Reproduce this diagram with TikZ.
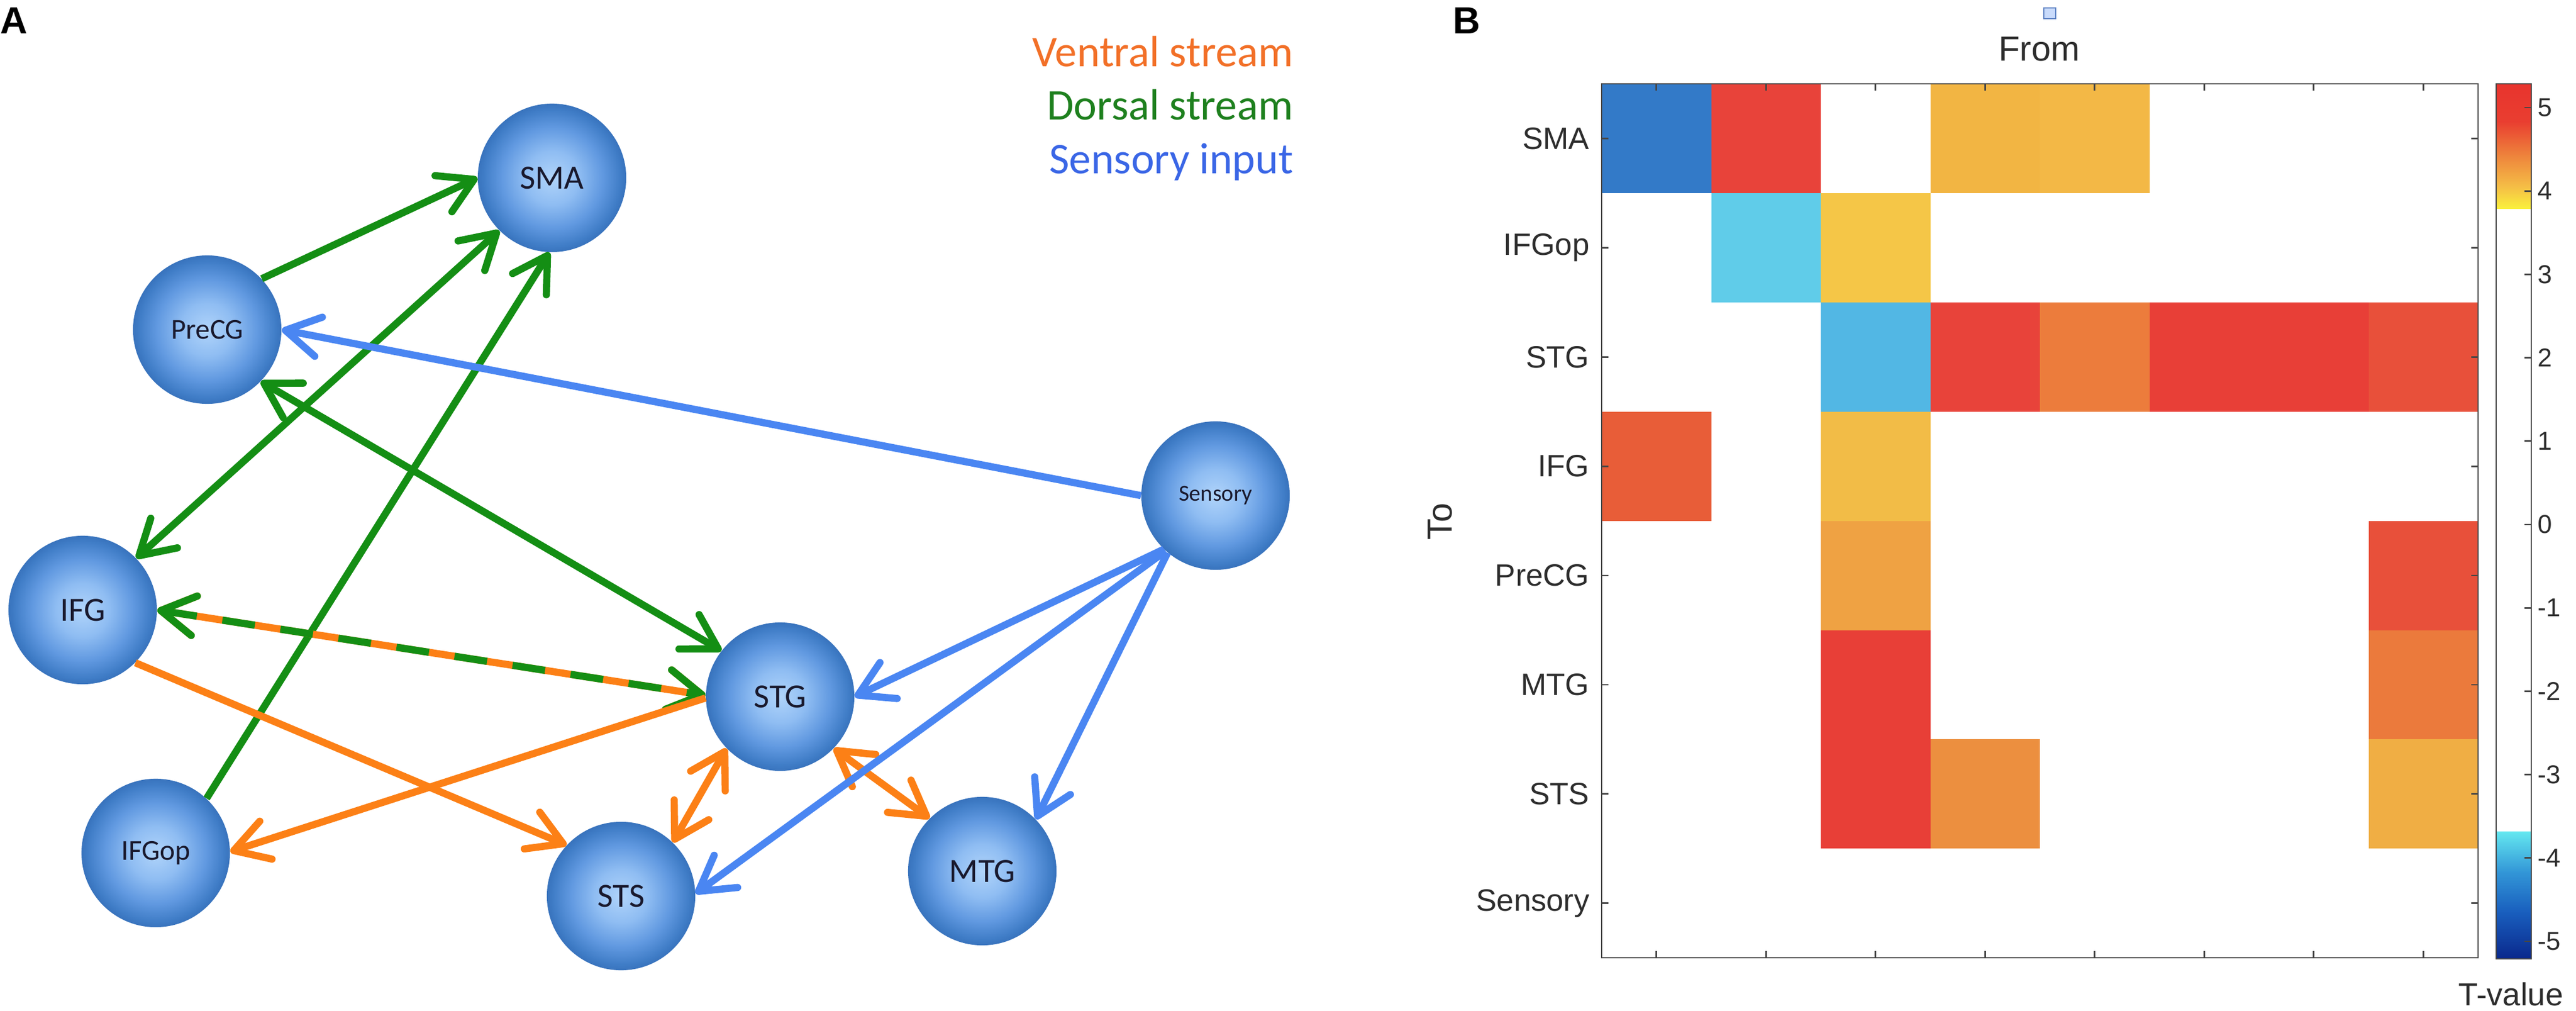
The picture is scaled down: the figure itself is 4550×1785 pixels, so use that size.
\documentclass[tikz,border=0pt]{standalone}
\usepackage{fontspec}
\usepackage{tikz}
\usetikzlibrary{arrows.meta}

\newfontfamily\calibfont{Carlito}
\newfontfamily\arialfont{Liberation Sans}

\definecolor{ventral}{RGB}{252,128,22}
\definecolor{ventraltext}{RGB}{242,112,40}
\definecolor{dorsal}{RGB}{20,142,20}
\definecolor{dorsaltext}{RGB}{30,128,30}
\definecolor{sensory}{RGB}{74,134,242}
\definecolor{sensorytext}{RGB}{58,102,230}
\definecolor{nodetext}{RGB}{25,25,45}
\definecolor{axisgray}{RGB}{70,70,70}
\definecolor{labelgray}{RGB}{45,45,45}

% matrix cell colours
\definecolor{mblue}{RGB}{51,122,200}
\definecolor{mred}{RGB}{232,67,58}
\definecolor{mredb}{RGB}{232,63,55}
\definecolor{myo}{RGB}{242,181,67}
\definecolor{myob}{RGB}{243,184,70}
\definecolor{mcyan}{RGB}{96,204,233}
\definecolor{myellow}{RGB}{245,198,71}
\definecolor{mlightblue}{RGB}{82,183,228}
\definecolor{morange}{RGB}{236,124,60}
\definecolor{mredorange}{RGB}{232,80,58}
\definecolor{mvermilion}{RGB}{232,93,56}
\definecolor{mgold}{RGB}{242,188,71}
\definecolor{mamber}{RGB}{239,162,67}
\definecolor{morangeb}{RGB}{235,122,60}
\definecolor{morangec}{RGB}{236,143,63}
\definecolor{mlightorange}{RGB}{240,174,68}

% colour bar
\definecolor{cbred}{RGB}{232,52,46}
\definecolor{cbredb}{RGB}{233,62,48}
\definecolor{cborange}{RGB}{238,132,60}
\definecolor{cbamber}{RGB}{245,190,70}
\definecolor{cbyellow}{RGB}{250,240,60}
\definecolor{cbcyan}{RGB}{100,232,240}
\definecolor{cbmid}{RGB}{50,150,215}
\definecolor{cbdeep}{RGB}{25,95,190}
\definecolor{cbdark}{RGB}{10,40,140}

\pgfdeclareradialshading{regionball}{\pgfpoint{0bp}{0bp}}{rgb(0bp)=(0.69,0.83,0.98); rgb(9bp)=(0.56,0.74,0.95); rgb(17bp)=(0.38,0.60,0.88); rgb(23bp)=(0.25,0.49,0.78); rgb(25bp)=(0.22,0.45,0.74); rgb(50bp)=(0.22,0.45,0.74)}

\begin{document}
\begin{tikzpicture}[x=0.01cm, y=-0.01cm, >={Straight Barb[length=17pt, width=20pt, round]},
    region/.style={circle, minimum size=2.62cm, inner sep=0pt, shading=regionball, text=nodetext},
    regionbig/.style={region, font=\calibfont\fontsize{17}{19}\selectfont},
    regionmid/.style={region, font=\calibfont\fontsize{14.5}{16}\selectfont},
    regionsmall/.style={region, font=\calibfont\fontsize{11.5}{13}\selectfont},
    flow/.style={line width=3.6pt},
    legend/.style={anchor=base east, inner sep=0pt, font=\calibfont\fontsize{22}{24}\selectfont},
    panel/.style={anchor=base west, inner sep=0pt, font=\arialfont\bfseries\fontsize{19}{21}\selectfont},
    axis/.style={draw=axisgray, line width=0.8pt},
    ylab/.style={anchor=east, inner sep=0pt, text=labelgray, font=\arialfont\fontsize{15.5}{17}\selectfont},
    cblab/.style={anchor=west, inner sep=0pt, text=labelgray, font=\arialfont\fontsize{13}{15}\selectfont},
    title/.style={inner sep=0pt, text=labelgray, font=\arialfont\fontsize{17.5}{19}\selectfont}]
    \useasboundingbox (0, 0) rectangle (4550, 1785);

    %Panel labels
    \node[panel] at (0, 60) (pa) {A};
    \node[panel] at (2566, 60) (pb) {B};

    %Legend
    \node[legend, text=ventraltext] at (2285, 118) (lv) {Ventral stream};
    \node[legend, text=dorsaltext] at (2285, 212) (ld) {Dorsal stream};
    \node[legend, text=sensorytext] at (2285, 307) (ls) {Sensory input};

    %Nodes
    \node[regionbig] at (975, 314) (sma) {SMA};
    \node[regionmid] at (366, 582) (precg) {PreCG};
    \node[regionbig] at (146, 1077) (ifg) {IFG};
    \node[regionmid] at (275, 1506) (ifgop) {IFGop};
    \node[regionbig] at (1097, 1582) (sts) {STS};
    \node[regionbig] at (1378, 1230) (stg) {STG};
    \node[regionbig] at (1735, 1538) (mtg) {MTG};
    \node[regionsmall] at (2147, 875) (sens) {Sensory};

    %Dorsal stream
    \draw[flow, dorsal, ->] (precg.43) -- (sma.180);
    \draw[flow, dorsal, ->] (ifgop.47) -- (sma.268);
    \draw[flow, dorsal, <->] (ifg.44) -- (sma.225);
    \draw[flow, dorsal, <->] (precg.316) -- (stg.142);

    %Ventral stream
    \draw[flow, ventral, <->] (ifg.0) -- (stg.179);
    \draw[flow, dorsal, <->, dash pattern=on 16.5pt off 13pt] (ifg.0) -- (stg.179);
    \draw[flow, ventral, ->] (ifg.315) -- (sts.137);
    \draw[flow, ventral, ->] (stg.181) -- (ifgop.1);
    \draw[flow, ventral, <->] (sts.46) -- (stg.224);
    \draw[flow, ventral, <->] (stg.316) -- (mtg.135);

    %Sensory input
    \draw[flow, sensory, ->] (sens.180) -- (precg.0);
    \draw[flow, sensory, ->] (sens.226) -- (stg.0);
    \draw[flow, sensory, ->] (sens.228) -- (sts.2);
    \draw[flow, sensory, ->] (sens.230) -- (mtg.44);

    %Matrix cells
    \foreach \r/\c/\col in {1/1/mblue, 1/2/mred, 1/4/myo, 1/5/myob,
        2/2/mcyan, 2/3/myellow,
        3/3/mlightblue, 3/4/mred, 3/5/morange, 3/6/mredb, 3/7/mredb, 3/8/mredorange,
        4/1/mvermilion, 4/3/mgold,
        5/3/mamber, 5/8/mredorange,
        6/3/mredb, 6/8/morangeb,
        7/3/mredb, 7/4/morangec, 7/8/mlightorange}
        \fill[\col] ({2829+(\c-1)*193.5}, {148+(\r-1)*192.9}) rectangle ++(193.5, 192.9);

    %Axes and ticks
    \draw[axis] (2829, 148) rectangle (4377, 1691);
    \foreach \i in {1,...,8} {
        \draw[axis] ({2829+(\i-0.5)*193.5}, 148) -- ++(0, 12);
        \draw[axis] ({2829+(\i-0.5)*193.5}, 1691) -- ++(0, -12);
        \draw[axis] (2829, {148+(\i-0.5)*192.9}) -- ++(12, 0);
        \draw[axis] (4377, {148+(\i-0.5)*192.9}) -- ++(-12, 0);
    }
    \foreach \lab [count=\i] in {SMA, IFGop, STG, IFG, PreCG, MTG, STS, Sensory}
        \node[ylab] at (2808, {148+(\i-0.5)*192.9}) (row\i) {\lab};

    \node[title, anchor=base] at (3602, 108) (from) {From};
    \draw[draw=sensory!60!gray, fill=sensory!30!white, line width=0.6pt] (3610, 14) rectangle (3631, 33);
    \node[title, rotate=90] at (2544, 921) (to) {To};

    %Colour bar
    \shade[top color=cbred, bottom color=cbredb] (4409, 148) rectangle (4471, 215);
    \shade[top color=cbredb, bottom color=cborange] (4409, 215) rectangle (4471, 275);
    \shade[top color=cborange, bottom color=cbamber] (4409, 275) rectangle (4471, 330);
    \shade[top color=cbamber, bottom color=cbyellow] (4409, 330) rectangle (4471, 368);
    \shade[top color=cbcyan, bottom color=cbmid] (4409, 1468) rectangle (4471, 1540);
    \shade[top color=cbmid, bottom color=cbdeep] (4409, 1540) rectangle (4471, 1610);
    \shade[top color=cbdeep, bottom color=cbdark] (4409, 1610) rectangle (4471, 1693);
    \draw[axis] (4409, 148) rectangle (4471, 1693);
    \foreach \v in {-5,...,5} {
        \draw[axis] (4471, {926-147.2*\v}) -- ++(-12, 0);
        \node[cblab] at (4482, {926-147.2*\v}) (cb\v) {\v};
    }
    \node[title, anchor=base east, font=\arialfont\fontsize{16}{18}\selectfont] at (4528, 1775) (tval) {T-value};
\end{tikzpicture}
\end{document}
